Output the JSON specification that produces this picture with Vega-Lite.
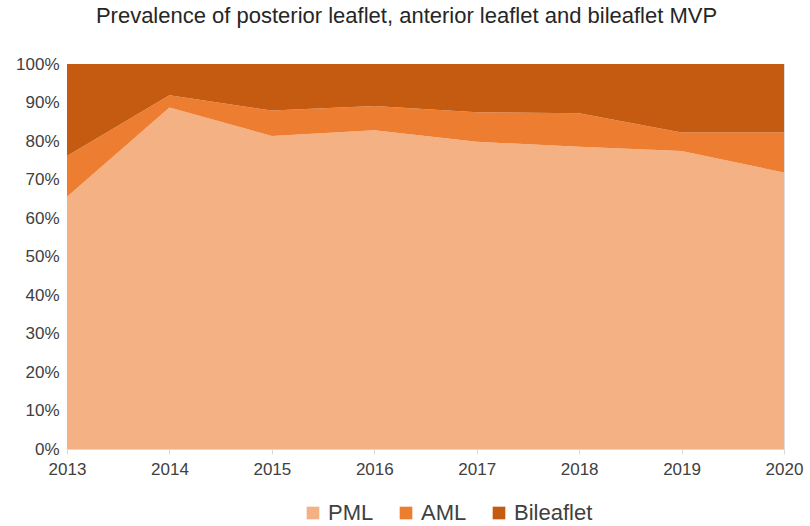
{
  "$schema": "https://vega.github.io/schema/vega-lite/v6.json",
  "width": 717,
  "height": 385,
  "autosize": "none",
  "padding": {"left": 67, "top": 64, "right": 26, "bottom": 77},
  "background": "white",
  "title": {
    "text": "Prevalence of posterior leaflet, anterior leaflet and bileaflet MVP",
    "font": "Liberation Sans",
    "fontSize": 22,
    "fontWeight": "normal",
    "color": "#262626",
    "anchor": "middle",
    "dx": -19,
    "offset": 27
  },
  "data": {
    "values": [
      {"year": 2013, "type": "PML", "ord": 1, "pct": 65.5},
      {"year": 2013, "type": "AML", "ord": 2, "pct": 10.6},
      {"year": 2013, "type": "Bileaflet", "ord": 3, "pct": 23.9},
      {"year": 2014, "type": "PML", "ord": 1, "pct": 88.7},
      {"year": 2014, "type": "AML", "ord": 2, "pct": 3.2},
      {"year": 2014, "type": "Bileaflet", "ord": 3, "pct": 8.1},
      {"year": 2015, "type": "PML", "ord": 1, "pct": 81.3},
      {"year": 2015, "type": "AML", "ord": 2, "pct": 6.6},
      {"year": 2015, "type": "Bileaflet", "ord": 3, "pct": 12.1},
      {"year": 2016, "type": "PML", "ord": 1, "pct": 82.8},
      {"year": 2016, "type": "AML", "ord": 2, "pct": 6.3},
      {"year": 2016, "type": "Bileaflet", "ord": 3, "pct": 10.9},
      {"year": 2017, "type": "PML", "ord": 1, "pct": 79.8},
      {"year": 2017, "type": "AML", "ord": 2, "pct": 7.7},
      {"year": 2017, "type": "Bileaflet", "ord": 3, "pct": 12.5},
      {"year": 2018, "type": "PML", "ord": 1, "pct": 78.5},
      {"year": 2018, "type": "AML", "ord": 2, "pct": 8.7},
      {"year": 2018, "type": "Bileaflet", "ord": 3, "pct": 12.8},
      {"year": 2019, "type": "PML", "ord": 1, "pct": 77.4},
      {"year": 2019, "type": "AML", "ord": 2, "pct": 4.8},
      {"year": 2019, "type": "Bileaflet", "ord": 3, "pct": 17.8},
      {"year": 2020, "type": "PML", "ord": 1, "pct": 71.8},
      {"year": 2020, "type": "AML", "ord": 2, "pct": 10.4},
      {"year": 2020, "type": "Bileaflet", "ord": 3, "pct": 17.8}
    ]
  },
  "mark": {"type": "area", "interpolate": "linear"},
  "encoding": {
    "x": {
      "field": "year",
      "type": "quantitative",
      "scale": {"domain": [2013, 2020], "nice": false, "zero": false},
      "axis": {
        "title": null,
        "values": [2013, 2014, 2015, 2016, 2017, 2018, 2019, 2020],
        "format": "d",
        "grid": false,
        "domainColor": "#D9D9D9",
        "tickColor": "#D9D9D9",
        "tickSize": 5,
        "labelFont": "Liberation Sans",
        "labelFontSize": 17,
        "labelColor": "#404040",
        "labelPadding": 7,
        "labelFlush": false
      }
    },
    "y": {
      "field": "pct",
      "type": "quantitative",
      "stack": "zero",
      "scale": {"domain": [0, 100], "nice": false},
      "axis": {
        "title": null,
        "values": [0, 10, 20, 30, 40, 50, 60, 70, 80, 90, 100],
        "labelExpr": "datum.value + '%'",
        "grid": false,
        "domain": false,
        "ticks": false,
        "labelFont": "Liberation Sans",
        "labelFontSize": 17,
        "labelColor": "#404040",
        "labelPadding": 8
      }
    },
    "color": {
      "field": "type",
      "type": "nominal",
      "scale": {"domain": ["PML", "AML", "Bileaflet"], "range": ["#F4B183", "#ED7D31", "#C55A11"]},
      "legend": {
        "title": null,
        "orient": "none",
        "direction": "horizontal",
        "legendX": 235,
        "legendY": 438,
        "symbolType": "square",
        "symbolSize": 160,
        "symbolStrokeWidth": 0,
        "labelFont": "Liberation Sans",
        "labelFontSize": 22,
        "labelColor": "#404040",
        "columnPadding": 21,
        "labelOffset": 4
      }
    },
    "order": {"field": "ord", "type": "quantitative"}
  }
}
